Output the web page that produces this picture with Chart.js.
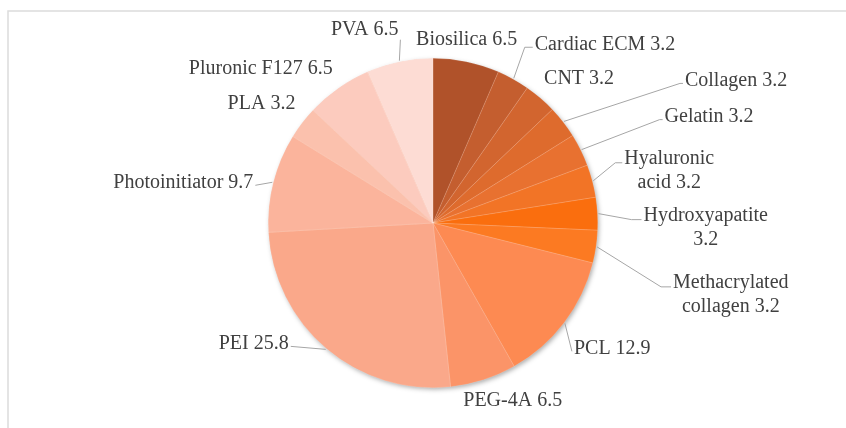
<!DOCTYPE html>
<html>
<head>
<meta charset="utf-8">
<script src="https://cdn.jsdelivr.net/npm/chart.js@4"></script>
<style>
  html, body { margin: 0; padding: 0; background: #fff; }
  #wrap { width: 846px; height: 428px; }
</style>
</head>
<body>
<div id="wrap"><canvas id="materialsChart" width="846" height="428"></canvas></div>
<script>
// Materials share (%)
const materials = [
  "Biosilica", "Cardiac ECM", "CNT", "Collagen", "Gelatin",
  "Hyaluronic acid", "Hydroxyapatite", "Methacrylated collagen", "PCL",
  "PEG-4A", "PEI", "Photoinitiator", "PLA", "Pluronic F127", "PVA",
];
const shares = [6.5, 3.2, 3.2, 3.2, 3.2, 3.2, 3.2, 3.2, 12.9, 6.5, 25.8, 9.7, 3.2, 6.5, 6.5];

const sliceColors = [
  "#b0522a", "#c45e2f", "#d2652f", "#de6b2d", "#e87130",
  "#f27426", "#fa6e0e", "#fc7a22", "#fd8a52", "#fb9468",
  "#faa88a", "#fbb49c", "#fbc1ad", "#fccbbe", "#fddcd4",
];

// label placement: offset of text anchor from slice edge point, alignment, leader line, elbow length, wrap
const labelLayout = [
  { dx: 0, dy: -21, align: "center", leader: false },
  { dx: 19, dy: -31, align: "left", leader: true, elbow: 8 },
  { dx: 1, dy: -16, align: "left", leader: false },
  { dx: 119, dy: -38, align: "left", leader: true, elbow: 3 },
  { dx: 81, dy: -30, align: "left", leader: true, elbow: 3 },
  { dx: 29, dy: -18, align: "left", leader: true, elbow: 7, wrap: true },
  { dx: 43, dy: 6, align: "left", leader: true, elbow: 10, wrap: true },
  { dx: 74, dy: 40, align: "left", leader: true, elbow: 10, wrap: true },
  { dx: 7, dy: 28, align: "left", leader: true, elbow: 0 },
  { dx: 29, dy: 20, align: "center", leader: false },
  { dx: -35, dy: -3, align: "right", leader: true, elbow: 0 },
  { dx: -17, dy: 3, align: "right", leader: true, elbow: 0 },
  { dx: -4, dy: -15, align: "right", leader: false },
  { dx: -3, dy: -16, align: "right", leader: false },
  { dx: 1, dy: -21, align: "above", leader: true, elbow: 0 },
];

const LABEL_FONT = "normal 400 20px \"Liberation Serif\"";

const frame = {
  id: "frame",
  beforeDraw(chart) {
    const ctx = chart.ctx;
    ctx.save();
    ctx.strokeStyle = "#dcdcdc";
    ctx.lineWidth = 1.5;
    ctx.beginPath();
    ctx.moveTo(8, 430);
    ctx.lineTo(8, 11);
    ctx.lineTo(850, 11);
    ctx.stroke();
    ctx.restore();
  },
  beforeDatasetsDraw(chart) {
    const el = chart.getDatasetMeta(0).data[0];
    if (!el) return;
    const ctx = chart.ctx;
    ctx.save();
    ctx.shadowColor = "rgba(0,0,0,0.35)";
    ctx.shadowBlur = 5;
    ctx.shadowOffsetX = 1.5;
    ctx.shadowOffsetY = 2;
    ctx.fillStyle = "#f4a07a";
    ctx.beginPath();
    ctx.arc(el.x, el.y, el.outerRadius - 0.5, 0, Math.PI * 2);
    ctx.fill();
    ctx.restore();
  },
};

const outsideLabels = {
  id: "outsideLabels",
  afterDatasetsDraw(chart) {
    const ctx = chart.ctx;
    const meta = chart.getDatasetMeta(0);
    const values = chart.data.datasets[0].data;
    ctx.save();
    ctx.textBaseline = "middle";
    meta.data.forEach((arc, i) => {
      const p = arc.getProps(["x", "y", "startAngle", "endAngle", "outerRadius"], true);
      const mid = (p.startAngle + p.endAngle) / 2;
      const ex = p.x + Math.cos(mid) * (p.outerRadius + 1);
      const ey = p.y + Math.sin(mid) * (p.outerRadius + 1);
      const lay = labelLayout[i];
      const ax = ex + lay.dx;
      const ay = ey + lay.dy;

      if (lay.leader) {
        ctx.strokeStyle = "#a6a6a6";
        ctx.lineWidth = 1;
        ctx.beginPath();
        ctx.moveTo(ex, ey);
        const e = lay.elbow || 0;
        if (lay.align === "right") {
          ctx.lineTo(ax + e, ay);
        } else {
          ctx.lineTo(ax - e, ay);
        }
        ctx.lineTo(ax, ay);
        ctx.stroke();
      }

      const full = chart.data.labels[i] + " " + values[i];
      let lines = [full];
      if (lay.wrap) {
        const k = full.indexOf(" ");
        lines = [full.slice(0, k), full.slice(k + 1)];
      }
      ctx.font = LABEL_FONT;
      ctx.fillStyle = "#404040";
      const maxW = Math.max(...lines.map((t) => ctx.measureText(t).width));
      lines.forEach((t, j) => {
        const ty = (lines.length > 1 ? ay - 4 : ay - 3) + j * 24;
        if (lay.align === "left") {
          ctx.textAlign = "center";
          ctx.fillText(t, ax + 2 + maxW / 2, ty);
        } else if (lay.align === "right") {
          ctx.textAlign = "right";
          ctx.fillText(t, ax - 2, ty);
        } else if (lay.align === "above") {
          ctx.textAlign = "center";
          ctx.fillText(t, ax - maxW / 2 - 2, ay - 10);
        } else {
          ctx.textAlign = "center";
          ctx.fillText(t, ax, ay);
        }
      });
    });
    ctx.restore();
  },
};

const ctx1 = document.getElementById("materialsChart").getContext("2d");
const materialsChart = new Chart(ctx1, {
  type: "pie",
  data: {
    labels: materials,
    datasets: [
      {
        data: shares,
        backgroundColor: sliceColors,
        borderColor: "rgba(255,255,255,0.3)",
        borderWidth: 0.5,
      },
    ],
  },
  options: {
    responsive: false,
    animation: false,
    layout: {
      padding: { left: 268, right: 248, top: 58, bottom: 40 },
    },
    plugins: {
      legend: { display: false },
      tooltip: { enabled: false },
    },
  },
  plugins: [frame, outsideLabels],
});
</script>
</body>
</html>
